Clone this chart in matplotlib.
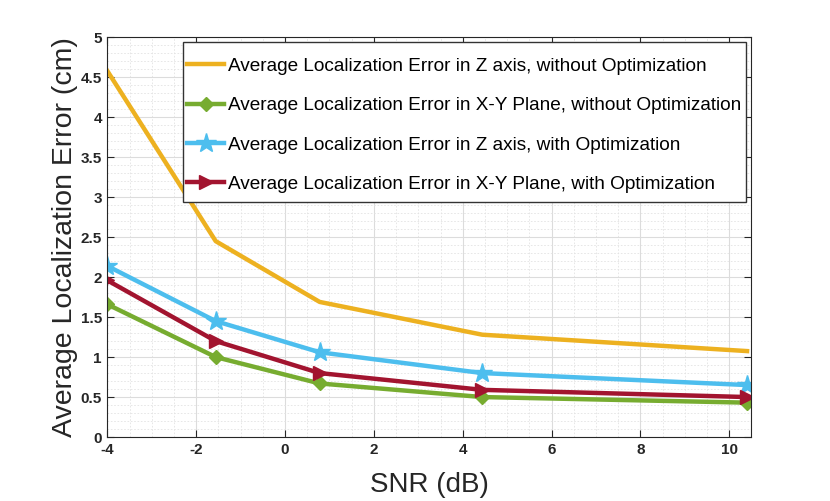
import matplotlib
matplotlib.use('Agg')
import matplotlib.pyplot as plt
from matplotlib.patches import Rectangle
from matplotlib.ticker import MultipleLocator, FuncFormatter

plt.rcParams['font.family'] = ['Liberation Sans', 'DejaVu Sans']

# data
snr = [-4, -1.56, 0.78, 4.44, 10.4]
z_no_opt = [4.58, 2.45, 1.69, 1.28, 1.075]
xy_no_opt = [1.66, 1.00, 0.67, 0.50, 0.43]
z_opt = [2.14, 1.45, 1.06, 0.80, 0.65]
xy_opt = [1.96, 1.20, 0.80, 0.59, 0.50]

labels = [
    'Average Localization Error in Z axis, without Optimization',
    'Average Localization Error in X-Y Plane, without Optimization',
    'Average Localization Error in Z axis, with Optimization',
    'Average Localization Error in X-Y Plane, with Optimization',
]

C_ORANGE = '#EDB120'
C_GREEN = '#77AC30'
C_BLUE = '#4DBEEE'
C_RED = '#A2142F'
AX_COLOR = '#262626'

fig = plt.figure(figsize=(8.3, 5.01), dpi=100)
ax = fig.add_axes([0.1293, 0.1277, 0.7761, 0.7978])

lw = 3.2
ax.plot(snr, z_no_opt, color=C_ORANGE, linewidth=lw, label=labels[0])
ax.plot(snr, xy_no_opt, color=C_GREEN, linewidth=lw, marker='D', markersize=7,
        label=labels[1])
ax.plot(snr, z_opt, color=C_BLUE, linewidth=lw, marker='*', markersize=15,
        label=labels[2])
ax.plot(snr, xy_opt, color=C_RED, linewidth=lw, marker='>', markersize=10,
        label=labels[3])

ax.set_xlim(-4, 10.5)
ax.set_ylim(0, 5)
ax.xaxis.set_major_locator(MultipleLocator(2))
ax.xaxis.set_minor_locator(MultipleLocator(0.5))
ax.yaxis.set_major_locator(MultipleLocator(0.5))
ax.yaxis.set_minor_locator(MultipleLocator(0.1))
ax.yaxis.set_major_formatter(FuncFormatter(lambda v, p: f'{v:g}'))
ax.xaxis.set_major_formatter(FuncFormatter(lambda v, p: f'{v:g}'))

ax.grid(True, which='major', color='#dcdcdc', linewidth=0.8)
ax.grid(True, which='minor', color='#e3e3e3', linewidth=0.6, linestyle=(0, (2, 2)))
ax.set_axisbelow(True)

ax.tick_params(which='major', direction='in', length=5, width=0.8, color=AX_COLOR,
               top=True, right=True, labelsize=11, labelcolor=AX_COLOR, pad=4)
ax.tick_params(which='minor', length=0)
for lab in ax.get_xticklabels() + ax.get_yticklabels():
    lab.set_fontweight('bold')
for sp in ax.spines.values():
    sp.set_color(AX_COLOR)
    sp.set_linewidth(0.8)

ax.set_xlabel('SNR (dB)', fontsize=20, color=AX_COLOR, labelpad=11)
ax.set_ylabel('Average Localization Error (cm)', fontsize=20.5, color=AX_COLOR, labelpad=2)

# legend box drawn separately so padding matches the original
box = Rectangle((0.1175, 0.588), 0.9914 - 0.1175, 0.988 - 0.588, transform=ax.transAxes,
                facecolor='white', edgecolor='#333333', linewidth=1.0, zorder=4.5)
ax.add_patch(box)
leg = ax.legend(loc='center', bbox_to_anchor=(0.5545, 0.78), borderaxespad=0,
                fontsize=13.7, frameon=False, handlelength=1.9, labelspacing=1.16,
                borderpad=0.2, handletextpad=0.25)
leg.set_zorder(5)

fig.savefig('out.png', dpi=100)
